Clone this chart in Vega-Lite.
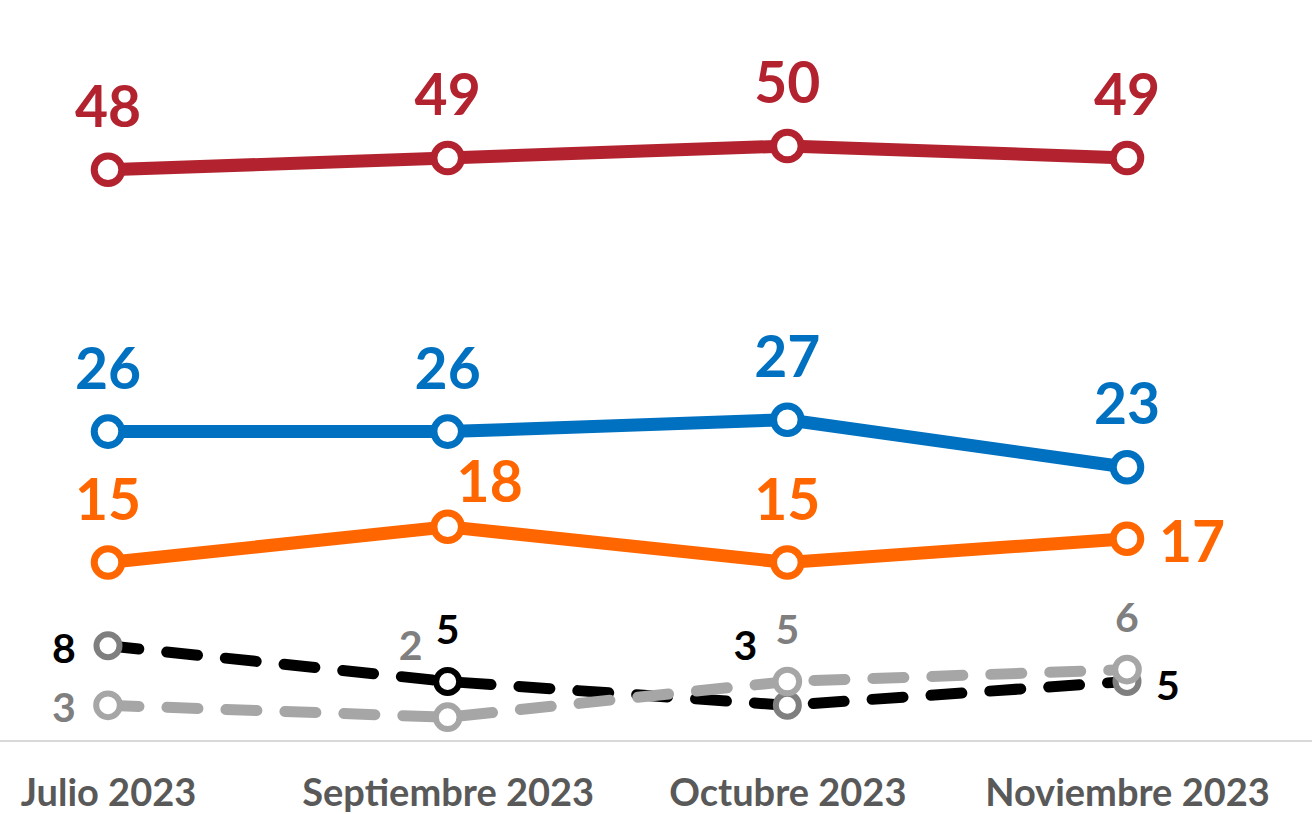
{
  "$schema": "https://vega.github.io/schema/vega-lite/v6.json",
  "width": 1312,
  "height": 741,
  "autosize": {"type": "none"},
  "padding": {"left": 0, "top": 0, "right": 0, "bottom": 73},
  "background": "white",
  "config": {"view": {"stroke": null}},
  "data": {
    "values": [
      {"mes": "Julio 2023", "serie": "A", "valor": 48},
      {"mes": "Septiembre 2023", "serie": "A", "valor": 49},
      {"mes": "Octubre 2023", "serie": "A", "valor": 50},
      {"mes": "Noviembre 2023", "serie": "A", "valor": 49},
      {"mes": "Julio 2023", "serie": "B", "valor": 26},
      {"mes": "Septiembre 2023", "serie": "B", "valor": 26},
      {"mes": "Octubre 2023", "serie": "B", "valor": 27},
      {"mes": "Noviembre 2023", "serie": "B", "valor": 23},
      {"mes": "Julio 2023", "serie": "C", "valor": 15},
      {"mes": "Septiembre 2023", "serie": "C", "valor": 18},
      {"mes": "Octubre 2023", "serie": "C", "valor": 15},
      {"mes": "Noviembre 2023", "serie": "C", "valor": 17},
      {"mes": "Julio 2023", "serie": "D", "valor": 8},
      {"mes": "Septiembre 2023", "serie": "D", "valor": 5},
      {"mes": "Octubre 2023", "serie": "D", "valor": 3},
      {"mes": "Noviembre 2023", "serie": "D", "valor": 5},
      {"mes": "Julio 2023", "serie": "E", "valor": 3},
      {"mes": "Septiembre 2023", "serie": "E", "valor": 2},
      {"mes": "Octubre 2023", "serie": "E", "valor": 5},
      {"mes": "Noviembre 2023", "serie": "E", "valor": 6}
    ]
  },
  "encoding": {
    "x": {
      "field": "mes",
      "type": "ordinal",
      "sort": ["Julio 2023", "Septiembre 2023", "Octubre 2023", "Noviembre 2023"],
      "scale": {"type": "point", "range": [108, 1127], "padding": 0},
      "axis": {
        "title": null,
        "domain": false,
        "ticks": false,
        "grid": false,
        "labelAngle": 0,
        "labelFont": "Lato",
        "labelFontWeight": "bold",
        "labelFontSize": 38,
        "labelColor": "#595959",
        "labelBaseline": "alphabetic",
        "labelPadding": 64,
        "labelFlush": false,
        "labelOverlap": false,
        "labelLimit": 500
      }
    },
    "y": {
      "field": "valor",
      "type": "quantitative",
      "scale": {"domain": [0, 62.27], "nice": false, "zero": false},
      "axis": null
    }
  },
  "layer": [
    {
      "mark": {"type": "rule", "color": "#D9D9D9", "strokeWidth": 2},
      "encoding": {"x": null, "y": {"datum": 0}}
    },
    {
      "transform": [{"filter": "datum.serie === 'A' || datum.serie === 'B' || datum.serie === 'C'"}],
      "mark": {"type": "line", "strokeWidth": 13, "strokeCap": "round"},
      "encoding": {
        "detail": {"field": "serie"},
        "stroke": {"field": "serie", "type": "nominal", "legend": null,
          "scale": {"domain": ["A", "B", "C", "D", "E"], "range": ["#B2232F", "#0070C0", "#FF6600", "#000000", "#A6A6A6"]}}
      }
    },
    {
      "transform": [{"filter": "datum.serie === 'A' || datum.serie === 'B' || datum.serie === 'C'"}],
      "mark": {"type": "point", "shape": "circle", "filled": true, "fill": "white", "size": 760, "strokeWidth": 7, "opacity": 1},
      "encoding": {
        "stroke": {"field": "serie", "type": "nominal", "legend": null}
      }
    },
    {
      "transform": [{"filter": "datum.serie === 'D'"}],
      "mark": {"type": "line", "strokeWidth": 11, "strokeCap": "round", "strokeDash": [31, 28], "color": "#000000"},
      "encoding": {}
    },
    {
      "transform": [{"filter": "datum.serie === 'D'"}],
      "mark": {"type": "point", "shape": "circle", "filled": true, "fill": "white", "size": 530, "strokeWidth": 6, "opacity": 1},
      "encoding": {
        "stroke": {"condition": {"test": "datum.mes === 'Septiembre 2023'", "value": "#000000"}, "value": "#7F7F7F"}
      }
    },
    {
      "transform": [{"filter": "datum.serie === 'E'"}],
      "mark": {"type": "line", "strokeWidth": 11, "strokeCap": "round", "strokeDash": [31, 28], "color": "#A6A6A6"},
      "encoding": {}
    },
    {
      "transform": [{"filter": "datum.serie === 'E'"}],
      "mark": {"type": "point", "shape": "circle", "filled": true, "fill": "white", "size": 560, "strokeWidth": 6, "opacity": 1, "stroke": "#A6A6A6"},
      "encoding": {}
    },
    {
      "transform": [{"filter": "datum.serie === 'A' || datum.serie === 'B' || (datum.serie === 'C' && (datum.mes === 'Julio 2023' || datum.mes === 'Octubre 2023'))"}],
      "mark": {"type": "text", "font": "Lato", "fontWeight": "bold", "fontSize": 57, "align": "center", "baseline": "alphabetic", "dy": -43},
      "encoding": {
        "text": {"field": "valor", "type": "quantitative"},
        "fill": {"field": "serie", "type": "nominal", "legend": null,
          "scale": {"domain": ["A", "B", "C", "D", "E"], "range": ["#B2232F", "#0070C0", "#FF6600", "#000000", "#7F7F7F"]}}
      }
    },
    {
      "transform": [{"filter": "datum.serie === 'C' && datum.mes === 'Septiembre 2023'"}],
      "mark": {"type": "text", "font": "Lato", "fontWeight": "bold", "fontSize": 57, "align": "center", "baseline": "alphabetic", "dx": 42, "dy": -25},
      "encoding": {
        "text": {"field": "valor", "type": "quantitative"},
        "fill": {"field": "serie", "type": "nominal", "legend": null}
      }
    },
    {
      "transform": [{"filter": "datum.serie === 'C' && datum.mes === 'Noviembre 2023'"}],
      "mark": {"type": "text", "font": "Lato", "fontWeight": "bold", "fontSize": 57, "align": "center", "baseline": "alphabetic", "dx": 65, "dy": 23},
      "encoding": {
        "text": {"field": "valor", "type": "quantitative"},
        "fill": {"field": "serie", "type": "nominal", "legend": null}
      }
    },
    {
      "transform": [{"filter": "(datum.serie === 'D' && datum.mes === 'Septiembre 2023') || (datum.serie === 'E' && (datum.mes === 'Octubre 2023' || datum.mes === 'Noviembre 2023'))"}],
      "mark": {"type": "text", "font": "Lato", "fontWeight": "bold", "fontSize": 41, "align": "center", "baseline": "alphabetic", "dy": -38},
      "encoding": {
        "text": {"field": "valor", "type": "quantitative"},
        "fill": {"field": "serie", "type": "nominal", "legend": null}
      }
    },
    {
      "transform": [{"filter": "(datum.serie === 'D' || datum.serie === 'E') && datum.mes === 'Julio 2023'"}],
      "mark": {"type": "text", "font": "Lato", "fontWeight": "bold", "fontSize": 41, "align": "center", "baseline": "alphabetic", "dx": -44, "dy": 17},
      "encoding": {
        "text": {"field": "valor", "type": "quantitative"},
        "fill": {"field": "serie", "type": "nominal", "legend": null}
      }
    },
    {
      "transform": [{"filter": "datum.serie === 'D' && datum.mes === 'Noviembre 2023'"}],
      "mark": {"type": "text", "font": "Lato", "fontWeight": "bold", "fontSize": 41, "align": "center", "baseline": "alphabetic", "dx": 41, "dy": 18},
      "encoding": {
        "text": {"field": "valor", "type": "quantitative"},
        "fill": {"field": "serie", "type": "nominal", "legend": null}
      }
    },
    {
      "transform": [{"filter": "datum.serie === 'D' && datum.mes === 'Octubre 2023'"}],
      "mark": {"type": "text", "font": "Lato", "fontWeight": "bold", "fontSize": 41, "align": "center", "baseline": "alphabetic", "dx": -42, "dy": -45},
      "encoding": {
        "text": {"field": "valor", "type": "quantitative"},
        "fill": {"field": "serie", "type": "nominal", "legend": null}
      }
    },
    {
      "transform": [{"filter": "datum.serie === 'E' && datum.mes === 'Septiembre 2023'"}],
      "mark": {"type": "text", "font": "Lato", "fontWeight": "bold", "fontSize": 41, "align": "center", "baseline": "alphabetic", "dx": -37, "dy": -57},
      "encoding": {
        "text": {"field": "valor", "type": "quantitative"},
        "fill": {"field": "serie", "type": "nominal", "legend": null}
      }
    }
  ]
}
